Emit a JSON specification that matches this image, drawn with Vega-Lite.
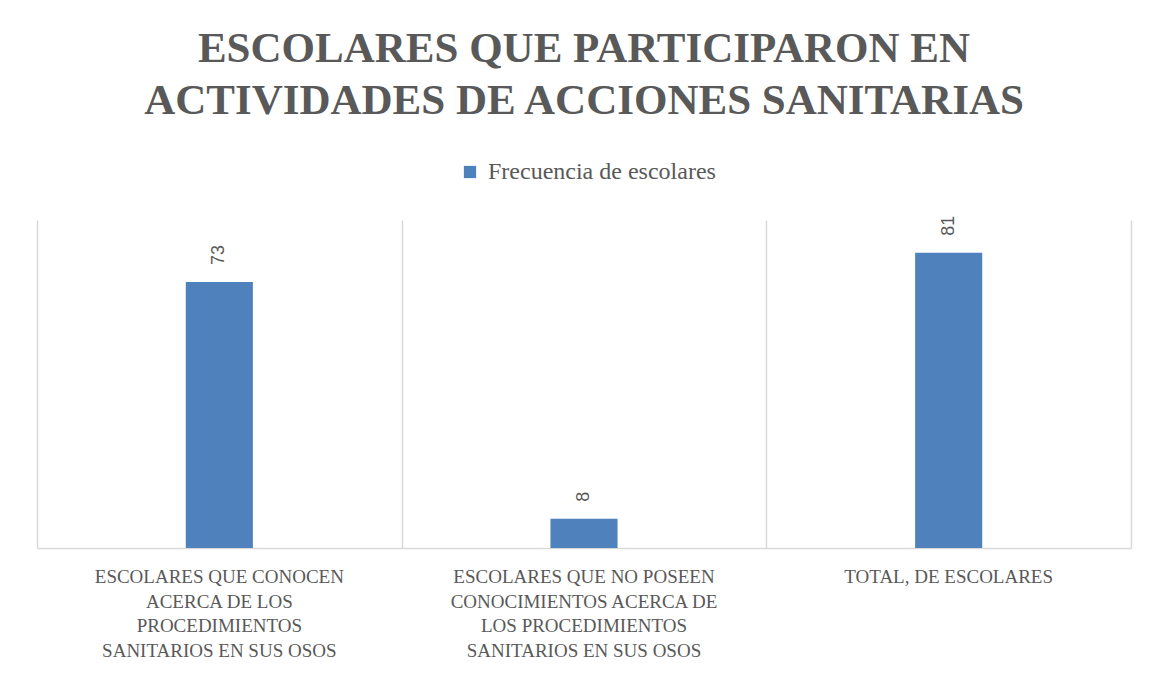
{
  "$schema": "https://vega.github.io/schema/vega-lite/v6.json",
  "width": 1155,
  "height": 674,
  "autosize": {"type": "fit", "contains": "padding"},
  "padding": {"left": 37, "top": 32, "right": 24, "bottom": 13},
  "background": "white",
  "title": {
    "text": ["ESCOLARES QUE PARTICIPARON EN", "ACTIVIDADES DE ACCIONES SANITARIAS"],
    "font": "Liberation Serif",
    "fontSize": 43,
    "fontWeight": "bold",
    "color": "#595959",
    "lineHeight": 52,
    "anchor": "middle",
    "offset": 93
  },
  "data": {
    "values": [
      {"categoria": "ESCOLARES QUE CONOCEN\nACERCA DE LOS\nPROCEDIMIENTOS\nSANITARIOS EN SUS OSOS", "serie": "Frecuencia de escolares", "valor": 73},
      {"categoria": "ESCOLARES QUE NO POSEEN\nCONOCIMIENTOS ACERCA DE\nLOS PROCEDIMIENTOS\nSANITARIOS EN SUS OSOS", "serie": "Frecuencia de escolares", "valor": 8},
      {"categoria": "TOTAL, DE ESCOLARES", "serie": "Frecuencia de escolares", "valor": 81}
    ]
  },
  "encoding": {
    "x": {
      "field": "categoria",
      "type": "nominal",
      "sort": null,
      "scale": {"paddingInner": 0, "paddingOuter": 0},
      "axis": {
        "title": null,
        "labels": false,
        "domainColor": "#D9D9D9",
        "domainWidth": 1.5,
        "grid": true,
        "gridColor": "#D9D9D9",
        "gridWidth": 1.5,
        "tickBand": "extent",
        "ticks": false
      }
    },
    "y": {
      "field": "valor",
      "type": "quantitative",
      "scale": {"domain": [0, 90], "nice": false},
      "axis": null
    }
  },
  "layer": [
    {
      "mark": {"type": "bar", "width": {"band": 0.184}},
      "encoding": {
        "color": {
          "field": "serie",
          "type": "nominal",
          "scale": {"range": ["#4F81BD"]},
          "legend": {
            "title": null,
            "orient": "none",
            "legendX": 421,
            "legendY": -60,
            "symbolType": "square",
            "symbolSize": 150,
            "symbolStrokeWidth": 0,
            "labelFont": "Liberation Serif",
            "labelFontSize": 24,
            "labelColor": "#595959",
            "labelOffset": 6,
            "labelLimit": 0
          }
        }
      }
    },
    {
      "mark": {
        "type": "text",
        "angle": -90,
        "align": "left",
        "baseline": "middle",
        "dx": 17,
        "font": "Liberation Sans",
        "fontSize": 18,
        "color": "#595959"
      },
      "encoding": {"text": {"field": "valor", "type": "quantitative"}}
    },
    {
      "mark": {
        "type": "text",
        "baseline": "top",
        "align": "center",
        "lineBreak": "\n",
        "lineHeight": 24.5,
        "dy": 20,
        "font": "Liberation Serif",
        "fontSize": 19,
        "color": "#595959"
      },
      "encoding": {
        "y": {"datum": 0},
        "text": {"field": "categoria", "type": "nominal"}
      }
    }
  ],
  "config": {"view": {"stroke": null}}
}
